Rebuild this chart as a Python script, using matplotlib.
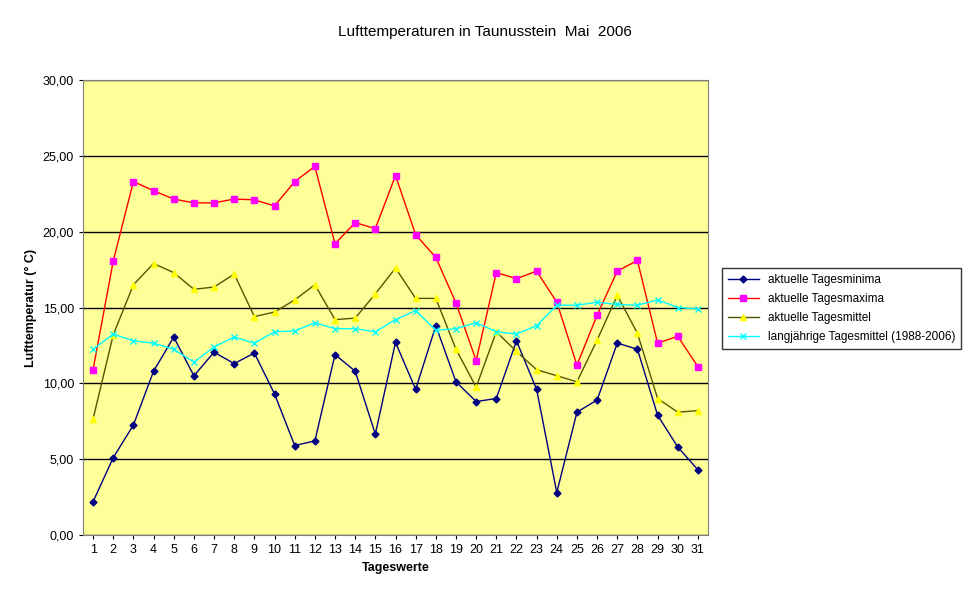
import matplotlib
matplotlib.use("Agg")
import matplotlib.pyplot as plt
from matplotlib.ticker import FuncFormatter

plt.rcParams["font.family"] = "Liberation Sans"

tage = list(range(1, 32))
minima = [2.2, 5.1, 7.25, 10.8, 13.05, 10.5, 12.05, 11.3, 12.0, 9.3, 5.9, 6.2, 11.9, 10.8, 6.65,
          12.7, 9.6, 13.8, 10.1, 8.8, 9.0, 12.8, 9.6, 2.8, 8.1, 8.9, 12.65, 12.25, 7.9, 5.8, 4.3]
maxima = [10.9, 18.06, 23.3, 22.7, 22.15, 21.9, 21.9, 22.15, 22.1, 21.7, 23.3, 24.3, 19.2, 20.6, 20.2,
          23.7, 19.8, 18.3, 15.3, 11.5, 17.3, 16.9, 17.4, 15.35, 11.2, 14.5, 17.4, 18.1, 12.65, 13.1, 11.1]
mittel = [7.65, 13.2, 16.5, 17.9, 17.3, 16.2, 16.35, 17.2, 14.4, 14.7, 15.5, 16.5, 14.2, 14.3, 15.9,
          17.6, 15.6, 15.6, 12.25, 9.75, 13.4, 12.1, 10.9, 10.5, 10.1, 12.85, 15.8, 13.3, 9.0, 8.1, 8.2]
langjaehrig = [12.25, 13.25, 12.8, 12.65, 12.25, 11.4, 12.4, 13.05, 12.65, 13.4, 13.45, 14.0, 13.6, 13.6, 13.4,
               14.2, 14.8, 13.5, 13.6, 14.0, 13.4, 13.25, 13.8, 15.15, 15.15, 15.35, 15.2, 15.15, 15.5, 15.0, 14.9]

fig = plt.figure(figsize=(9.7, 6.04), dpi=100)
ax = fig.add_axes([83 / 970, 69 / 604, 625 / 970, 455 / 604])
ax.set_facecolor("#FFFF99")

ax.plot(tage, minima, color="#000080", marker="D", markersize=3.5, lw=1, label="aktuelle Tagesminima")
ax.plot(tage, maxima, color="#FF0000", marker="s", markersize=4, mfc="#FF00FF", mec="#FF00FF",
        lw=1, label="aktuelle Tagesmaxima")
ax.plot(tage, mittel, color="#555500", marker="^", markersize=4, mfc="#FFFF00", mec="#FFFF00",
        lw=1, label="aktuelle Tagesmittel")
ax.plot(tage, langjaehrig, color="#00FFFF", marker="x", markersize=4, lw=1,
        label="langjährige Tagesmittel (1988-2006)")

ax.set_xlim(0.5, 31.5)
ax.set_ylim(0, 30)
ax.set_xticks(tage)
ax.set_yticks(range(0, 31, 5))
ax.yaxis.set_major_formatter(FuncFormatter(lambda v, p: f"{v:.2f}".replace(".", ",")))
ax.tick_params(labelsize=9, length=3)
ax.grid(axis="y", color="black", lw=1)
ax.set_axisbelow(True)
for s in ax.spines.values():
    s.set_color("#808080")

ax.set_xlabel("Tageswerte", fontsize=9, fontweight="bold")
ax.set_ylabel("Lufttemperatur (° C)", fontsize=9, fontweight="bold")
fig.text(485 / 970, 1 - 32 / 604, "Lufttemperaturen in Taunusstein  Mai  2006", ha="center",
         va="center", fontsize=11)

leg = fig.legend(loc="upper left", bbox_to_anchor=(716 / 970, 1 - 262 / 604), fontsize=8.5,
                 frameon=True, fancybox=False, edgecolor="black", borderpad=0.5, labelspacing=0.6,
                 handlelength=2.6)
leg.get_frame().set_linewidth(1)

fig.savefig("out.png", dpi=100)
